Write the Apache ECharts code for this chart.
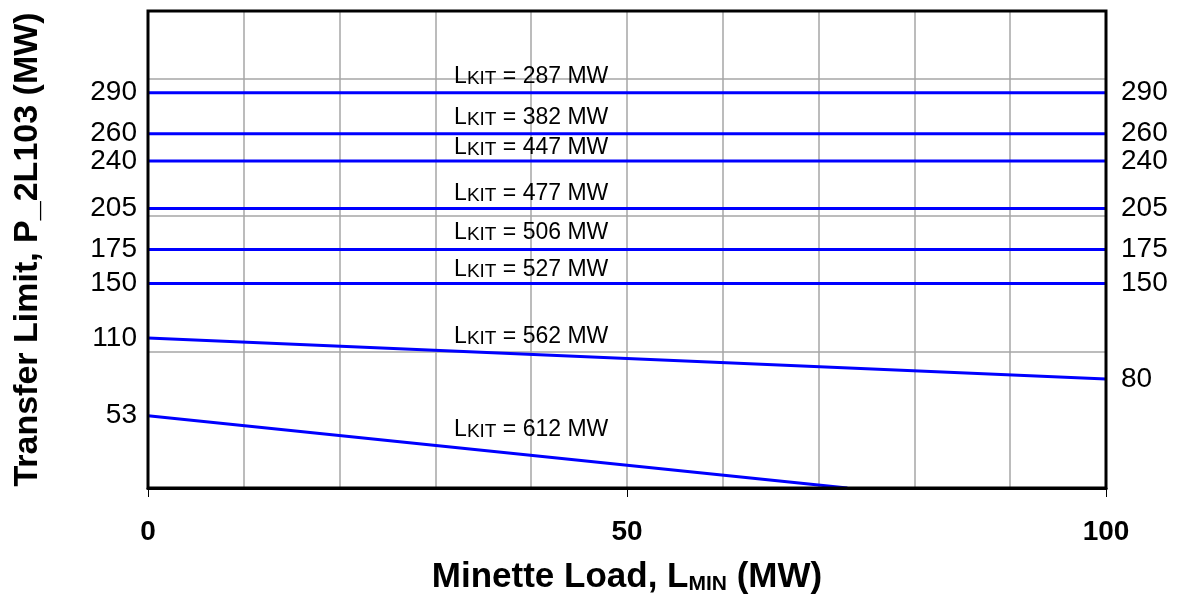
<!DOCTYPE html>
<html><head><meta charset="utf-8">
<script src="https://cdn.jsdelivr.net/npm/echarts@6/dist/echarts.min.js"></script>
<style>html,body{margin:0;padding:0;background:#fff}#c{width:1179px;height:605px}</style>
</head><body><div id="c"></div>
<script>
// L_KIT values for each transfer-limit line
const kitLoads = [287, 382, 447, 477, 506, 527, 562, 612];
// line endpoints (x = Minette load MW, y = transfer limit MW)
const startX = [0, 0, 0, 0, 0, 0, 0, 0];
const startY = [290, 260, 240, 205, 175, 150, 110, 53];
const endX   = [100, 100, 100, 100, 100, 100, 100, 73];
const endY   = [290, 260, 240, 205, 175, 150, 80, 0];
// tick labels
const leftTicks  = [290, 260, 240, 205, 175, 150, 110, 53];
const rightTicks = [290, 260, 240, 205, 175, 150, 80];
const xTicks = [0, 50, 100];
// label anchors (data coords)
const labelX = [40, 40, 40, 40, 40, 40, 40, 40];
const labelY = [302, 272, 250, 216, 187, 160, 111, 43];

const FONT = '"Liberation Sans", Arial, sans-serif';
const chart = echarts.init(document.getElementById('c'), null, {renderer: 'canvas'});

const series = [];
kitLoads.forEach((k, i) => {
  series.push({
    type: 'line', xAxisIndex: 0, yAxisIndex: 0,
    data: [[startX[i], startY[i]], [endX[i], endY[i]]],
    symbol: 'none', silent: true, animation: false,
    lineStyle: {color: '#0000ff', width: 3}, z: 3
  });
});
series.push({
  type: 'scatter', xAxisIndex: 0, yAxisIndex: 0,
  data: kitLoads.map((k, i) => ({value: [labelX[i], labelY[i]]})),
  symbolSize: 0, animation: false, silent: true, z: 4,
  itemStyle: {opacity: 1},
  label: {
    show: true, position: 'inside', color: '#000', opacity: 1,
    formatter: p => '{a|L}{b|KIT}{a| = ' + kitLoads[p.dataIndex] + ' MW}',
    rich: {
      a: {fontSize: 23, fontFamily: FONT, color: '#000', verticalAlign: 'bottom'},
      b: {fontSize: 19, fontFamily: FONT, color: '#000', verticalAlign: 'bottom'}
    }
  }
});

chart.setOption({
  animation: false,
  backgroundColor: '#fff',
  grid: {left: 148, top: 11, width: 958, height: 477, show: true, outerBoundsMode: 'none', containLabel: false,
         borderColor: '#000', borderWidth: 3, backgroundColor: 'transparent', z: 10},
  xAxis: [
    {type: 'value', min: 0, max: 100, interval: 50, position: 'bottom',
     axisLine: {show: true, lineStyle: {color: '#000', width: 3}},
     axisTick: {show: true, length: 9, lineStyle: {color: '#000', width: 1}},
     axisLabel: {margin: 30, fontSize: 28, fontWeight: 'bold', fontFamily: FONT, color: '#000',
                 formatter: v => xTicks.includes(v) ? String(v) : ''},
     splitLine: {show: false},
     name: '{a|Minette Load, L}{b|MIN}{a| (MW)}',
     nameLocation: 'middle', nameGap: 72,
     nameTextStyle: {rich: {
       a: {fontSize: 35, fontWeight: 'bold', fontFamily: FONT, color: '#000', verticalAlign: 'bottom'},
       b: {fontSize: 21, fontWeight: 'bold', fontFamily: FONT, color: '#000', verticalAlign: 'bottom'}
     }}},
    {type: 'value', min: 0, max: 100, interval: 10, position: 'top',
     axisLine: {show: false}, axisTick: {show: false}, axisLabel: {show: false},
     splitLine: {show: true, lineStyle: {color: '#a6a6a6', width: 1.5}}}
  ],
  yAxis: [
    {type: 'value', min: 0, max: 350, position: 'left',
     axisLine: {show: false}, axisTick: {show: false},
     axisLabel: {customValues: leftTicks, margin: 11, fontSize: 28, fontFamily: FONT, color: '#000'},
     splitLine: {show: false},
     name: 'Transfer Limit, P_2L103 (MW)', nameLocation: 'middle', nameGap: 103, nameRotate: 90,
     nameTextStyle: {fontSize: 34, fontWeight: 'bold', fontFamily: FONT, color: '#000'}},
    {type: 'value', min: 0, max: 350, position: 'right',
     axisLine: {show: false}, axisTick: {show: false},
     axisLabel: {customValues: rightTicks, margin: 15, fontSize: 28, fontFamily: FONT, color: '#000'},
     splitLine: {show: false}},
    {type: 'value', min: 0, max: 350, interval: 100, position: 'left', offset: 0,
     axisLine: {show: false}, axisTick: {show: false}, axisLabel: {show: false},
     splitLine: {show: true, lineStyle: {color: '#a6a6a6', width: 1.5}}}
  ],
  series: series
});
</script></body></html>
